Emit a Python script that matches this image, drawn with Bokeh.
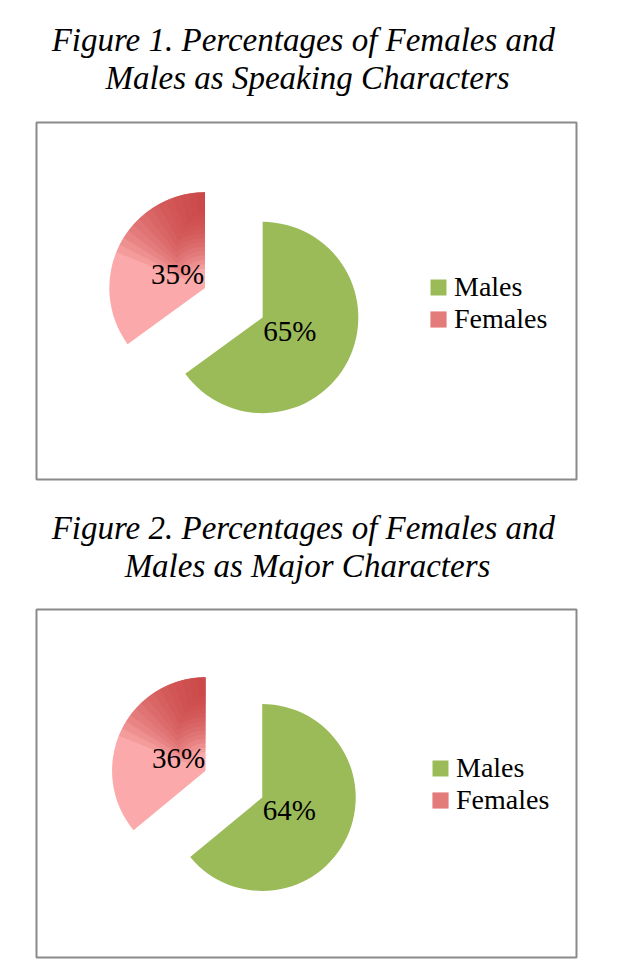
import math
from bokeh.plotting import figure
from bokeh.models import Range1d, Label, Legend, LegendItem, ColumnDataSource
from bokeh.layouts import column
from bokeh.core.properties import value
from bokeh.embed import file_html
from bokeh.resources import INLINE

# ---------------- data ----------------
categories = ["Males", "Females"]
speaking_pct = [65, 35]
major_pct = [64, 36]
title_1 = ["Figure 1.  Percentages of Females and", "Males as Speaking Characters"]
title_2 = ["Figure 2.  Percentages of Females and", "Males as Major Characters"]

# ---------------- style ----------------
MALE_COLOR = "#9BBB59"
FEMALE_LIGHT = "#FBA9AA"
FEMALE_DARK = "#C83C3C"
BOX_COLOR = "#8a8a8a"
SERIF = "Liberation Serif"
N_LAYERS = 14
PAGE_W = 610


def caption(lines, height, ys, bl, br):
    """A frameless strip holding the two-line italic caption (same frame width as its chart)."""
    fw = PAGE_W - bl - br
    t = figure(width=PAGE_W, height=height, x_range=Range1d(0, fw), y_range=Range1d(0, height),
               toolbar_location=None, output_backend="svg", x_axis_type=None, y_axis_type=None,
               min_border_left=bl, min_border_right=br, min_border_top=0, min_border_bottom=0)
    t.outline_line_color = None
    t.xgrid.visible = False
    t.ygrid.visible = False
    for txt, y in zip(lines, ys):
        t.add_layout(Label(x=fw / 2, y=y, x_units="screen", y_units="screen", text=txt,
                           text_align="center", text_baseline="middle", text_font=SERIF,
                           text_font_style="italic", text_font_size="33px", text_color="black"))
    return t


def build(values, width, height, bl, br, bt, bb, cx, cy, r, explode, legend_xy):
    fw = width - bl - br
    fh = height - bt - bb
    p = figure(width=width, height=height, x_range=Range1d(0, fw), y_range=Range1d(0, fh),
               toolbar_location=None, output_backend="svg",
               x_axis_type=None, y_axis_type=None,
               min_border_left=bl, min_border_right=br, min_border_top=bt, min_border_bottom=bb)
    p.outline_line_color = BOX_COLOR
    p.outline_line_width = 2
    p.background_fill_color = "white"
    p.border_fill_color = "white"
    p.xgrid.visible = False
    p.ygrid.visible = False

    total = float(sum(values))
    fracs = [v / total for v in values]
    # angles: start at 12 o'clock, clockwise
    a_start = [math.pi / 2]
    for f in fracs:
        a_start.append(a_start[-1] - 2 * math.pi * f)
    renderers = []
    centers = []
    for i, (cat, f) in enumerate(zip(categories, fracs)):
        s, e = a_start[i], a_start[i + 1]
        mid = (s + e) / 2
        if i == 1:
            ox, oy = cx + explode * math.cos(mid), cy + explode * math.sin(mid)
        else:
            ox, oy = cx, cy
        centers.append((ox, oy, mid))
        src = ColumnDataSource(dict(x=[ox], y=[oy], s=[s], e=[e]))
        color = MALE_COLOR if i == 0 else FEMALE_LIGHT
        rr = p.wedge(x="x", y="y", radius=r, start_angle="s", end_angle="e", direction="clock",
                     fill_color=color, line_color=None, source=src)
        renderers.append([rr])
        if i == 1:
            # gradient shading of the female slice (darker towards its 12 o'clock edge)
            top = e + 2 * math.pi
            for k in range(N_LAYERS):
                t = k / N_LAYERS
                span = math.radians(68) * (1 - t)
                inner = r * (0.2 + 0.65 * t)
                lr = p.annular_wedge(x=ox, y=oy, inner_radius=inner, outer_radius=r,
                                     start_angle=top, end_angle=top + span, direction="anticlock",
                                     fill_color=FEMALE_DARK, fill_alpha=0.12, line_color=None)
                if k < 4:
                    renderers[1].append(lr)
    # percentage labels
    for i, (ox, oy, mid) in enumerate(centers):
        d = 0.32 * r
        p.text(x=[ox + d * math.cos(mid)], y=[oy + d * math.sin(mid)], text=[f"{values[i]}%"],
               text_align="center", text_baseline="middle", text_font=value(SERIF),
               text_font_size="29px", text_color="black")

    legend = Legend(items=[LegendItem(label=c, renderers=rs) for c, rs in zip(categories, renderers)],
                    location=legend_xy, orientation="vertical",
                    glyph_width=20, glyph_height=20, label_height=20, label_standoff=6,
                    spacing=0, padding=0, margin=0,
                    border_line_color=None, background_fill_alpha=0,
                    label_text_font=SERIF, label_text_font_size="28px", label_text_color="black")
    p.add_layout(legend)
    return p


t1 = caption(title_1, 112, (73, 35), 34, 34)
p1 = build(speaking_pct, PAGE_W, 378, 34, 34, 10, 11, 227, 162, 96, 65, (392, 144))
t2 = caption(title_2, 110, (73, 35), 34, 34)
p2 = build(major_pct, PAGE_W, 373, 36, 31, 9, 16, 227, 160, 94, 63, (394, 141))

layout = column(t1, p1, t2, p2, spacing=0)
open("out.html", "w").write(file_html(layout, INLINE))
